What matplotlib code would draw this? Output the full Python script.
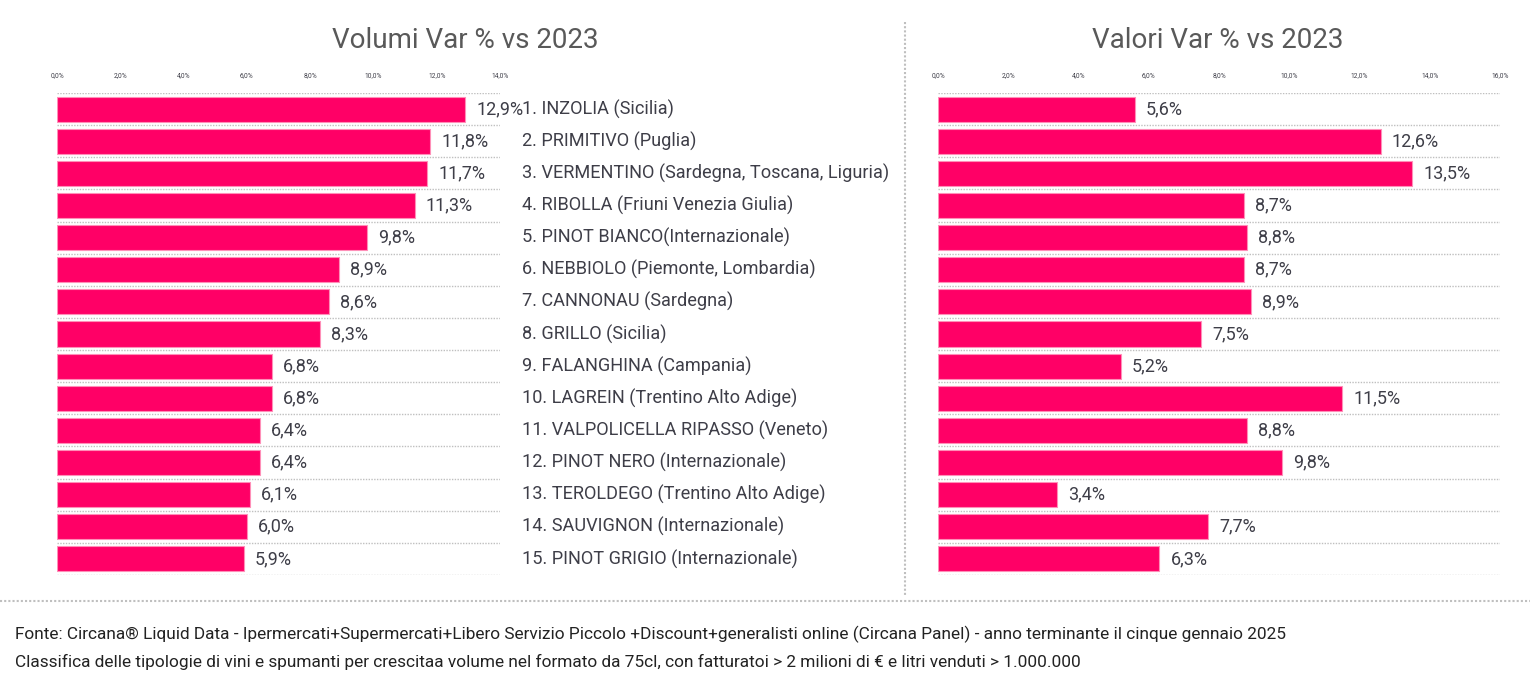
import matplotlib
matplotlib.use("Agg")
import matplotlib.pyplot as plt
from matplotlib.transforms import blended_transform_factory

categories = [
    "1. INZOLIA (Sicilia)",
    "2. PRIMITIVO (Puglia)",
    "3. VERMENTINO (Sardegna, Toscana, Liguria)",
    "4. RIBOLLA (Friuni Venezia Giulia)",
    "5. PINOT BIANCO(Internazionale)",
    "6. NEBBIOLO (Piemonte, Lombardia)",
    "7. CANNONAU (Sardegna)",
    "8. GRILLO (Sicilia)",
    "9. FALANGHINA (Campania)",
    "10. LAGREIN (Trentino Alto Adige)",
    "11. VALPOLICELLA RIPASSO (Veneto)",
    "12. PINOT NERO (Internazionale)",
    "13. TEROLDEGO (Trentino Alto Adige)",
    "14. SAUVIGNON (Internazionale)",
    "15. PINOT GRIGIO (Internazionale)",
]
volumi = [12.9, 11.8, 11.7, 11.3, 9.8, 8.9, 8.6, 8.3, 6.8, 6.8, 6.4, 6.4, 6.1, 6.0, 5.9]
valori = [5.6, 12.6, 13.5, 8.7, 8.8, 8.7, 8.9, 7.5, 5.2, 11.5, 8.8, 9.8, 3.4, 7.7, 6.3]
ticks_left = [0, 2, 4, 6, 8, 10, 12, 14]
ticks_right = [0, 2, 4, 6, 8, 10, 12, 14, 16]
title_left = "Volumi Var % vs 2023"
title_right = "Valori Var % vs 2023"
footer1 = ("Fonte: Circana\u00ae Liquid Data - Ipermercati+Supermercati+Libero Servizio Piccolo +Discount+generalisti "
           "online (Circana Panel) - anno terminante il cinque gennaio 2025")
footer2 = ("Classifica delle tipologie di vini e spumanti per crescitaa volume nel formato da 75cl, con fatturatoi > 2 "
           "milioni di \u20ac e litri venduti > 1.000.000")

FONT = ["Roboto", "DejaVu Sans"]
plt.rcParams["font.family"] = FONT

W, H = 1530, 688
fig = plt.figure(figsize=(W / 100, H / 100), dpi=100)
fig.patch.set_facecolor("white")

BAR = "#FF0066"
EDGE = "#FF8FB8"
TXT = "#3E3E48"
GRID = "#BFBFBF"

def fx(px):
    return px / W

def fy(py):
    return 1 - py / H

top, bottom = 93, 575

def panel(x0, x1, vmax, values, ticks, title, title_x):
    ax = fig.add_axes([fx(x0), fy(bottom), fx(x1 - x0), (bottom - top) / H])
    n = len(values)
    ypos = list(range(n))
    ax.barh(ypos, values, height=0.78, color=BAR, edgecolor=EDGE, linewidth=0.8, zorder=3)
    ax.set_xlim(0, vmax)
    ax.set_ylim(n - 0.5, -0.5)
    for b in [i - 0.5 for i in range(n + 1)]:
        ax.axhline(b, color=GRID, lw=1.0, ls=(0, (1, 1)), zorder=1)
    for y, v in zip(ypos, values):
        ax.annotate(f"{v:.1f}%".replace(".", ","), xy=(v, y), xytext=(8, 0),
                    textcoords="offset points", ha="left", va="center",
                    fontsize=13, color=TXT, zorder=4)
    ax.xaxis.tick_top()
    ax.set_xticks(ticks)
    ax.set_xticklabels([f"{t:.1f}%".replace(".", ",") for t in ticks], fontsize=4.8, color=TXT)
    ax.tick_params(axis="x", length=0, pad=10)
    ax.set_yticks([])
    for s in ax.spines.values():
        s.set_visible(False)
    fig.text(fx(title_x), fy(41), title, ha="center", va="center", fontsize=20, color="#595959")
    return ax

axl = panel(57, 500, 14, volumi, ticks_left, title_left, 465)
axr = panel(938, 1500, 16, valori, ticks_right, title_right, 1218)

# category labels between the panels
tr = blended_transform_factory(fig.transFigure, axl.transData)
for i, c in enumerate(categories):
    axl.text(fx(522), i, c, transform=tr, ha="left", va="center", fontsize=13.1, color=TXT,
             clip_on=False, zorder=2)

# divider lines
fig.add_artist(plt.Line2D([fx(905), fx(905)], [fy(22), fy(596)], color=GRID, lw=1.5,
                          ls=(0, (1, 1)), transform=fig.transFigure))
fig.add_artist(plt.Line2D([0, 1], [fy(601), fy(601)], color=GRID, lw=1.5,
                          ls=(0, (1, 1)), transform=fig.transFigure))

fig.text(fx(15), fy(634), footer1, ha="left", va="center", fontsize=12.4, color="#222222")
fig.text(fx(15), fy(662), footer2, ha="left", va="center", fontsize=12.4, color="#222222")

fig.savefig("out.png", dpi=100, facecolor="white")
